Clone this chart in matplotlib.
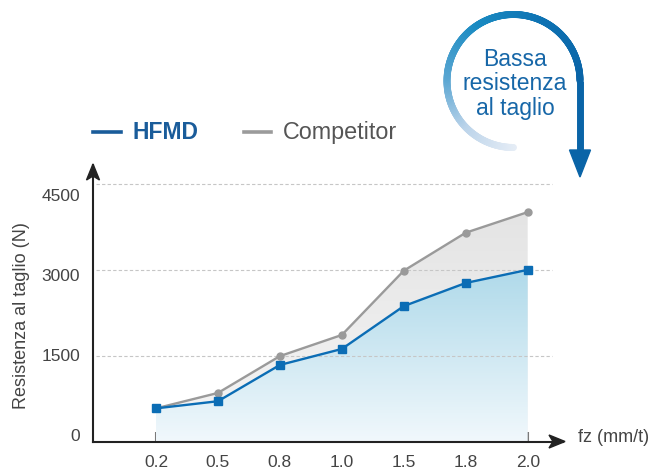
import numpy as np
import matplotlib
matplotlib.use('Agg')
import matplotlib.pyplot as plt
import matplotlib.transforms as mtransforms
from matplotlib.collections import LineCollection
from matplotlib.patches import Polygon
from matplotlib.lines import Line2D
from matplotlib.colors import to_rgb

plt.rcParams['font.family'] = ['Liberation Sans', 'DejaVu Sans']

# ---------------- data ----------------
categories = ['0.2', '0.5', '0.8', '1.0', '1.5', '1.8', '2.0']
hfmd = [580, 705, 1340, 1620, 2370, 2775, 3005]
competitor = [580, 850, 1495, 1865, 2990, 3655, 4015]
yticks = [0, 1500, 3000, 4500]
series_names = ['HFMD', 'Competitor']
x_label = 'fz (mm/t)'
y_label = 'Resistenza al taglio (N)'
callout = 'Bassa\nresistenza\nal taglio'

# ---------------- figure ----------------
W, H = 651, 473
fig = plt.figure(figsize=(W / 100, H / 100), dpi=100)


def P(x, y):
    return (x / W, 1 - y / H)


ax_l, ax_r, ax_t, ax_b = 93, 563, 165, 441.5
ax = fig.add_axes([ax_l / W, 1 - ax_b / H, (ax_r - ax_l) / W, (ax_b - ax_t) / H])
ax.patch.set_alpha(0)
x = np.arange(len(categories))


def grad_fill(ax, xs, ys, c_top, c_bot, z):
    poly = ax.fill_between(xs, ys, 0, facecolor='none', edgecolor='none', zorder=z)
    n = 256
    t = np.linspace(0, 1, n)[:, None]
    ct, cb = np.array(to_rgb(c_top)), np.array(to_rgb(c_bot))
    img = (cb + (ct - cb) * t)[:, None, :]
    im = ax.imshow(img, extent=[xs[0], xs[-1], 0, max(ys)], origin='lower',
                   aspect='auto', zorder=z, interpolation='bilinear')
    im.set_clip_path(poly.get_paths()[0], transform=ax.transData)


grad_fill(ax, x, competitor, '#e4e4e4', '#f6f6f6', 1)
grad_fill(ax, x, hfmd, '#b0daea', '#f1f8fc', 2)

for v in yticks[1:]:
    ax.axhline(v, xmin=0.007, xmax=(552 - ax_l) / (ax_r - ax_l), color='#c6c6c6',
               lw=0.8, ls=(0, (3, 2)), zorder=3)

ax.plot(x, competitor, color='#9a9a9a', lw=1.7, marker='o', ms=5, zorder=5)
ax.plot(x, hfmd, color='#0b6db5', lw=1.7, marker='s', ms=6, zorder=6)

ax.set_xlim(-1.017, 6.57)
ax.set_ylim(0, 4840)
ax.set_xticks(x)
ax.set_xticklabels(categories)
ax.set_yticks(yticks)
ax.set_yticklabels([str(v) for v in yticks])

for s in ['top', 'right']:
    ax.spines[s].set_visible(False)
for s in ['left', 'bottom']:
    ax.spines[s].set_color('#222222')
    ax.spines[s].set_linewidth(1.5)

ax.tick_params(axis='x', direction='in', length=7, width=1.5, color='#7a7a7a',
               labelsize=12.5, labelcolor='#444444', pad=9.5)
ax.tick_params(axis='y', length=0, labelsize=12.5, labelcolor='#444444', pad=9.4)

# the reference's y labels sit on a slightly tighter spacing than the grid
for i, lab in enumerate(ax.get_yticklabels()):
    dy = -(-6.5 + 5.67 * i) / 100.0
    lab.set_transform(lab.get_transform() +
                      mtransforms.ScaledTranslation(0, dy, fig.dpi_scale_trans))

ax.set_ylabel(y_label, fontsize=13, color='#444444')
ax.yaxis.set_label_coords((30 - ax_l) / (ax_r - ax_l), (ax_b - 316) / (ax_b - ax_t))
fig.text(*P(578, 437), x_label, ha='left', va='center', fontsize=13, color='#444444')

# axis arrowheads
fig.add_artist(Polygon([P(93, 164), P(99.5, 180), P(93, 176), P(86.5, 180)],
                       closed=True, transform=fig.transFigure, color='#222222'))
fig.add_artist(Polygon([P(565, 441.5), P(549, 435), P(553, 441.5), P(549, 448)],
                       closed=True, transform=fig.transFigure, color='#222222'))

# legend
fig.add_artist(Line2D([93 / W, 121 / W], [1 - 132 / H] * 2, color='#1a5c9a', lw=2.6,
                      transform=fig.transFigure))
fig.text(*P(133, 132), series_names[0], ha='left', va='center', fontsize=16.5,
         fontweight='bold', color='#1a5c9a')
fig.add_artist(Line2D([244 / W, 271 / W], [1 - 132 / H] * 2, color='#9b9b9b', lw=2.6,
                      transform=fig.transFigure))
fig.text(*P(283, 132), series_names[1], ha='left', va='center', fontsize=16.8,
         color='#555555')

# curved callout arrow
cx, cy, r = 513.5, 81, 66.5
ang = np.linspace(1.5 * np.pi, 0, 400)
pts = np.array([P(cx + r * np.cos(a), cy - r * np.sin(a)) for a in ang])
segs = np.stack([pts[:-1], pts[1:]], axis=1)
stops = [(0.0, '#e6edf6'), (0.18, '#bcd4ea'), (0.35, '#5aa6d2'), (0.55, '#1a8bc2'),
         (0.78, '#0d71b2'), (1.0, '#0a64a7')]
tt = np.linspace(0, 1, len(segs))
sp = np.array([s[0] for s in stops])
sc = np.array([to_rgb(s[1]) for s in stops])
cols = np.stack([np.interp(tt, sp, sc[:, i]) for i in range(3)], axis=1)
fig.add_artist(LineCollection(segs, colors=cols, linewidths=5.0, capstyle='round',
                              transform=fig.transFigure))
fig.add_artist(Line2D([580 / W, 580 / W], [1 - 81 / H, 1 - 152 / H], color='#0a64a7',
                      lw=5.0, solid_capstyle='butt', transform=fig.transFigure))
fig.add_artist(Polygon([P(569.5, 150), P(590.5, 150), P(580, 177)], closed=True,
                       transform=fig.transFigure, color='#0a64a7'))
fig.text(*P(515, 84), callout, ha='center', va='center', fontsize=16.5,
         color='#1767a8', linespacing=1.1)

fig.savefig('out.png', dpi=100)
